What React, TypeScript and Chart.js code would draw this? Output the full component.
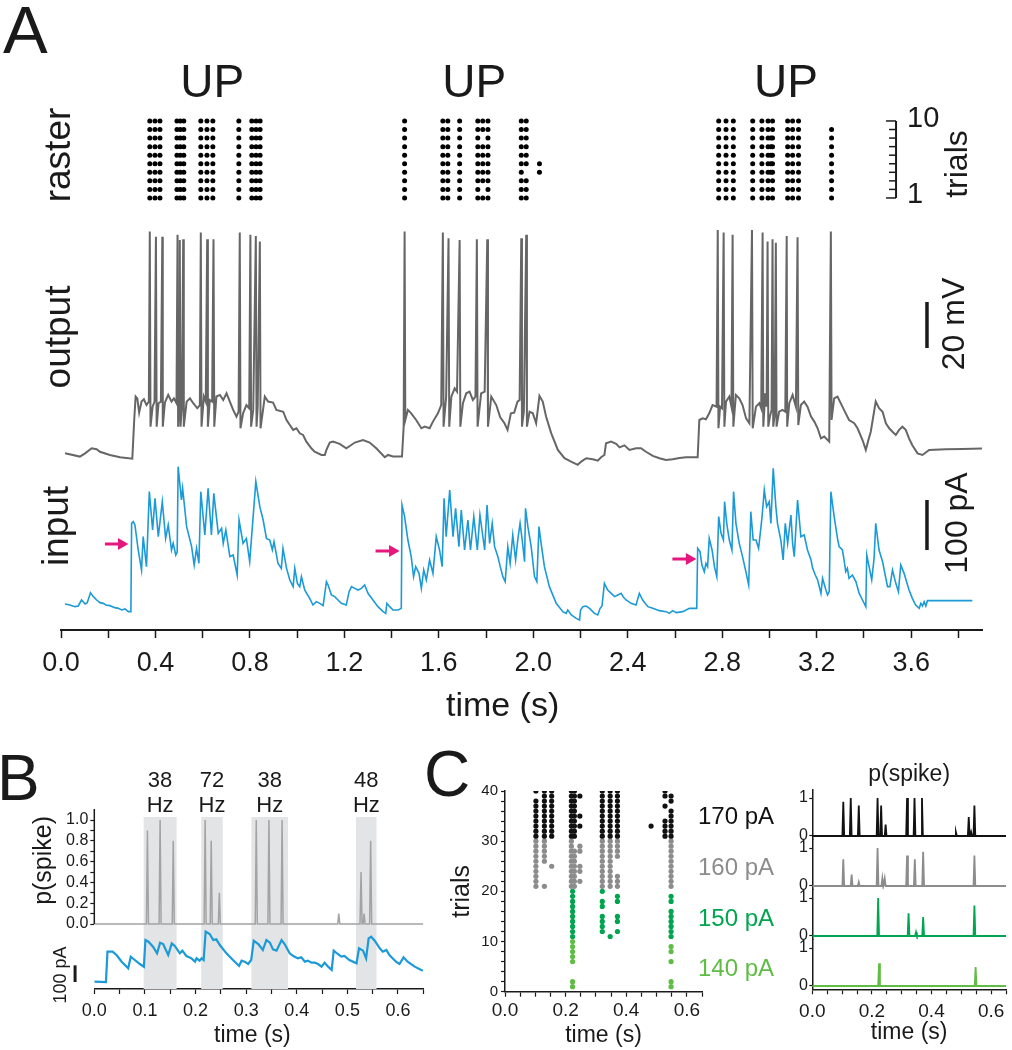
import React, { useEffect, useRef } from 'react';
import { Chart, registerables } from 'chart.js';

Chart.register(...registerables);

const FONT = '"Liberation Sans", Arial, Helvetica, sans-serif';
const INK = '#1a1a1a';
Chart.defaults.font.family = FONT;
Chart.defaults.color = INK;

// ---------------- Panel A data ----------------
const aXTickLabels = ['0.0', '0.4', '0.8', '1.2', '1.6', '2.0', '2.4', '2.8', '3.2', '3.6'];
const upLabelTimes = [0.64, 1.75, 3.07];
const T10 = [1, 2, 3, 4, 5, 6, 7, 8, 9, 10];
const rasterTimes = [
  0.376, 0.398, 0.419, 0.491, 0.505, 0.52, 0.592, 0.618, 0.643, 0.753, 0.808, 0.826, 0.843,
  1.455, 1.617, 1.638, 1.688, 1.765, 1.786, 1.808, 1.949, 1.97, 2.026,
  2.785, 2.816, 2.847, 2.929, 2.968, 2.994, 3.006, 3.013, 3.077, 3.098, 3.123, 3.263,
];
const rasterTrials: number[][] = [
  T10, T10, T10, T10, T10, T10, T10, T10, T10, T10, T10, T10, T10,
  T10, T10, T10, T10, T10, [1, 3, 4, 5, 6, 7, 9, 10], T10, T10, [1, 2, 3, 5, 6, 7, 8, 9, 10], [4, 5],
  T10, T10, T10, T10, T10, T10, [4, 5, 6, 7, 8], T10, T10, T10, T10, [1, 2, 3, 4, 5, 6, 7, 8, 9],
];
// output membrane potential (s, mV)
const outputTrace: [number, number][] = [
  [0.017, -69.3], [0.08, -70.7], [0.102, -69.3], [0.13, -67.1], [0.151, -67.5], [0.165, -68.6], [0.207, -70.0], [0.25, -71.0], [0.302, -71.6],
  [0.31, -54.8], [0.316, -44.6], [0.323, -45.4], [0.331, -51.6], [0.341, -46.8], [0.351, -45.8], [0.362, -48.3], [0.372, -46.8],
  [0.376, 27.1], [0.379, -57.7], [0.388, -49.0], [0.396, -46.8],
  [0.402, 24.9], [0.405, -57.7], [0.413, -47.5], [0.423, -46.8],
  [0.429, 24.9], [0.431, -57.7], [0.44, -47.2], [0.454, -43.9], [0.468, -46.8], [0.478, -45.4], [0.489, -47.5],
  [0.4935, 25.7], [0.496, -57.7], [0.501, -46.8], [0.503, 23.5], [0.506, -57.7], [0.512, -49.0], [0.5175, 23.8], [0.52, -57.7],
  [0.532, -46.8], [0.546, -45.4], [0.56, -47.5], [0.577, -49.7], [0.588, -48.3],
  [0.592, 26.7], [0.595, -57.7], [0.605, -44.6], [0.613, -46.8],
  [0.619, 23.8], [0.622, -57.7], [0.63, -46.1], [0.64, -46.8],
  [0.6458, 23.8], [0.649, -57.7], [0.658, -44.6], [0.673, -43.9], [0.687, -46.1], [0.701, -43.2], [0.715, -46.8], [0.729, -50.4], [0.743, -53.3], [0.752, -51.2],
  [0.757, 26.7], [0.76, -58.4], [0.771, -51.9], [0.785, -48.3], [0.797, -49.7],
  [0.802, 25.7], [0.805, -57.7], [0.814, -50.4],
  [0.825, 25.2], [0.828, -57.7], [0.833, -49.0],
  [0.842, 22.8], [0.845, -58.4], [0.863, -44.6], [0.877, -46.8], [0.898, -47.2], [0.912, -50.4], [0.941, -51.2], [0.955, -54.8], [0.969, -57.0],
  [0.983, -59.1], [0.997, -58.4], [1.011, -60.6], [1.025, -61.3], [1.039, -64.2], [1.06, -67.1], [1.074, -68.6], [1.103, -70.0], [1.117, -70.0],
  [1.124, -67.8], [1.138, -64.6], [1.152, -64.2], [1.18, -65.2], [1.208, -67.1], [1.223, -66.1], [1.244, -64.6], [1.279, -63.5], [1.307, -64.6],
  [1.335, -67.1], [1.371, -71.0], [1.385, -70.0], [1.406, -70.7], [1.444, -70.7],
  [1.451, -57.7], [1.455, 27.1], [1.458, -54.8], [1.469, -50.4], [1.483, -51.9], [1.504, -54.8], [1.526, -58.4], [1.54, -57.7], [1.561, -58.4],
  [1.575, -55.5], [1.596, -51.9], [1.61, -48.3],
  [1.617, 26.7], [1.62, -57.7], [1.631, -44.6],
  [1.641, 24.2], [1.644, -57.7], [1.653, -44.6], [1.667, -41.0], [1.677, -42.5],
  [1.688, 23.5], [1.691, -57.7], [1.702, -47.5], [1.716, -43.2], [1.73, -42.5], [1.744, -46.1], [1.755, -44.6],
  [1.761, 23.8], [1.764, -57.7], [1.779, -43.2], [1.794, -42.5],
  [1.805, 23.8], [1.808, -57.7], [1.822, -44.6], [1.843, -48.3], [1.86, -53.6], [1.878, -56.2], [1.891, -59.1], [1.905, -51.9], [1.919, -51.6],
  [1.933, -46.8], [1.942, -46.1],
  [1.949, 24.2], [1.952, -57.7], [1.96, -51.2],
  [1.97, 25.7], [1.973, -57.7], [1.984, -51.2], [1.998, -51.9], [2.012, -56.2], [2.026, -44.3], [2.04, -46.8], [2.054, -53.3], [2.076, -60.6],
  [2.104, -67.8], [2.132, -71.4], [2.16, -72.9], [2.188, -74.3], [2.203, -72.9], [2.224, -71.4], [2.252, -71.9], [2.273, -72.5], [2.287, -71.0],
  [2.301, -70.0], [2.308, -64.9], [2.329, -64.2], [2.351, -65.2], [2.365, -66.7], [2.386, -65.8], [2.407, -67.8], [2.435, -67.1], [2.456, -67.1],
  [2.477, -68.6], [2.506, -70.4], [2.534, -71.4], [2.562, -72.2], [2.59, -71.9], [2.619, -71.3], [2.647, -71.0], [2.696, -71.0],
  [2.703, -54.8], [2.717, -54.1], [2.731, -54.5], [2.745, -51.9], [2.759, -48.3], [2.776, -49.0],
  [2.781, 27.8], [2.784, -58.4], [2.791, -49.0], [2.799, -49.7],
  [2.806, 26.7], [2.809, -57.7], [2.816, -46.8], [2.83, -44.6], [2.839, -49.0],
  [2.844, 25.7], [2.847, -57.7], [2.858, -43.9], [2.872, -45.4], [2.886, -48.3], [2.901, -54.1], [2.915, -56.2],
  [2.926, 27.8], [2.929, -58.4], [2.943, -49.0], [2.957, -47.5], [2.965, -49.7],
  [2.971, 26.7], [2.974, -57.7], [2.982, -43.2], [2.988, -49.0],
  [2.992, 22.8], [2.995, -57.7], [3.002, -53.3], [3.009, -50.4],
  [3.013, 23.8], [3.016, -57.7], [3.022, -52.6],
  [3.027, 22.3], [3.03, -57.7], [3.041, -51.2], [3.055, -50.4], [3.067, -51.2],
  [3.073, 25.2], [3.075, -57.7], [3.084, -47.5], [3.098, -43.9], [3.112, -49.0],
  [3.119, 24.6], [3.122, -57.0], [3.133, -48.3], [3.147, -46.8], [3.161, -49.0], [3.176, -53.3], [3.19, -55.5], [3.204, -58.4], [3.218, -62.8],
  [3.232, -62.0], [3.253, -64.2],
  [3.26, 27.1], [3.263, -54.8], [3.274, -45.4], [3.288, -44.6], [3.309, -49.0], [3.323, -51.9], [3.337, -54.8], [3.359, -56.2], [3.373, -58.4],
  [3.394, -63.5], [3.408, -67.8], [3.419, -63.5], [3.429, -59.9], [3.45, -46.8], [3.464, -49.7], [3.479, -51.2], [3.493, -56.2], [3.507, -58.4],
  [3.521, -59.9], [3.535, -61.3], [3.549, -59.1], [3.563, -57.7], [3.577, -59.1], [3.591, -62.8], [3.605, -65.8], [3.627, -69.3], [3.648, -70.0],
  [3.676, -67.8], [3.747, -67.5], [3.817, -67.4], [3.91, -67.2],
];
// input current (s, pA)
const inputTrace: [number, number][] = [
  [0.017, 6], [0.038, 4], [0.059, 0.7], [0.073, 2], [0.087, 14], [0.102, 6], [0.111, 8.7], [0.125, 28.7], [0.137, 20.7], [0.151, 14], [0.165, 8.7],
  [0.179, 7.3], [0.19, 4], [0.207, 2.7], [0.228, -1.3], [0.243, -2.7], [0.257, -6], [0.271, -4], [0.285, -9.3], [0.296, -9.3],
  [0.299, 167.3], [0.306, 170.7], [0.313, 164], [0.327, 114], [0.341, 74], [0.348, 140.7], [0.362, 80.7], [0.374, 230.7], [0.388, 154],
  [0.398, 217.3], [0.412, 140.7], [0.429, 210.7], [0.443, 137.3], [0.454, 164], [0.468, 114], [0.475, 127.3], [0.486, 104], [0.492, 110],
  [0.496, 280.7], [0.51, 214], [0.515, 237.3], [0.532, 160.7], [0.553, 120.7], [0.564, 84], [0.574, 117.3], [0.584, 87.3], [0.592, 230.7],
  [0.609, 144], [0.623, 237.3], [0.637, 144], [0.647, 227.3], [0.666, 147.3], [0.68, 157.3], [0.687, 127.3], [0.698, 154], [0.715, 100.7],
  [0.729, 104], [0.746, 64], [0.754, 174], [0.771, 127.3], [0.785, 137.3], [0.799, 90.7], [0.825, 250.7], [0.842, 200.7], [0.856, 174],
  [0.87, 137.3], [0.884, 134], [0.895, 114], [0.902, 130.7], [0.919, 87.3], [0.933, 77.3], [0.94, 117.3], [0.955, 77.3], [0.969, 54],
  [0.983, 40.7], [0.99, 77.3], [1.001, 47.3], [1.011, 40.7], [1.018, 60.7], [1.032, 34], [1.053, 17.3], [1.067, 4], [1.081, 10.7], [1.096, 7.3],
  [1.11, 2.7], [1.124, 50.7], [1.131, 44], [1.145, 24], [1.159, 20.7], [1.173, 14], [1.187, 7.3], [1.208, 4], [1.22, 30.7], [1.23, 40.7],
  [1.244, 37.3], [1.258, 34], [1.272, 37.3], [1.286, 44], [1.3, 27.3], [1.321, 14], [1.342, 0.7], [1.364, -9.3], [1.375, -12.7], [1.38, 7.3],
  [1.392, 0.7], [1.406, -6], [1.427, -6], [1.441, -2.7],
  [1.444, 204], [1.455, 180.7], [1.469, 134], [1.483, 100.7], [1.493, 60.7], [1.502, 80.7], [1.516, 67.3], [1.526, 37.3], [1.536, 74],
  [1.547, 54], [1.561, 94], [1.575, 67.3], [1.589, 140.7], [1.603, 114], [1.614, 80.7], [1.622, 217.3], [1.631, 140.7], [1.646, 234],
  [1.66, 140.7], [1.671, 197.3], [1.685, 120.7], [1.695, 194], [1.709, 114], [1.723, 174], [1.734, 114], [1.748, 180.7], [1.763, 114],
  [1.774, 184], [1.794, 114], [1.804, 204], [1.815, 127.3], [1.826, 167.3], [1.836, 120.7], [1.85, 100.7], [1.86, 80.7], [1.871, 60.7],
  [1.881, 50.7], [1.892, 120.7], [1.902, 87.3], [1.913, 144], [1.925, 94], [1.934, 134], [1.944, 167.3], [1.953, 134], [1.963, 90.7],
  [1.967, 197.3], [1.977, 160.7], [1.991, 120.7], [2.005, 60.7], [2.015, 50.7], [2.024, 160.7], [2.033, 127.3], [2.047, 80.7], [2.068, 40.7],
  [2.097, 7.3], [2.125, -9.3], [2.139, -12.7], [2.146, -6], [2.161, -16], [2.182, -22.7], [2.196, -26], [2.2, -6], [2.21, 0.7], [2.224, 2],
  [2.238, -2.7], [2.259, -12.7], [2.273, -16], [2.283, -2.7], [2.291, 2], [2.301, 47.3], [2.315, 34], [2.33, 27.3], [2.344, 20.7], [2.358, 24],
  [2.372, 27.3], [2.382, 19.3], [2.393, 14], [2.414, 7.3], [2.435, 4], [2.449, 27.3], [2.463, 14], [2.485, 0.7], [2.506, -2.7], [2.534, -7.3],
  [2.562, -9.3], [2.576, -12.7], [2.59, -7.3], [2.605, -11.3], [2.633, -9.3], [2.661, -2.7], [2.692, -2.7],
  [2.696, 117.3], [2.706, 110.7], [2.714, 84], [2.724, 70.7], [2.731, 87.3], [2.738, 80.7], [2.745, 137.3], [2.757, 114], [2.767, 80.7],
  [2.777, 60.7], [2.785, 180.7], [2.795, 147.3], [2.805, 134], [2.81, 210.7], [2.819, 167.3], [2.83, 134], [2.841, 114], [2.848, 230.7],
  [2.858, 167.3], [2.872, 127.3], [2.886, 100.7], [2.9, 70.7], [2.912, 44], [2.921, 190.7], [2.931, 134], [2.943, 134], [2.954, 117.3],
  [2.968, 177.3], [2.978, 234], [2.988, 200.7], [2.999, 210.7], [3.006, 167.3], [3.016, 277.3], [3.027, 200.7], [3.034, 167.3], [3.048, 134],
  [3.058, 94], [3.067, 167.3], [3.077, 127.3], [3.091, 184], [3.098, 127.3], [3.105, 100.7], [3.119, 214], [3.133, 140.7], [3.147, 144],
  [3.161, 114], [3.176, 94], [3.183, 77.3], [3.194, 64], [3.204, 54], [3.218, 27.3], [3.225, 57.3], [3.239, 34], [3.246, 24], [3.253, 30.7],
  [3.26, 230.7], [3.274, 180.7], [3.288, 137.3], [3.295, 120.7], [3.309, 114], [3.316, 94], [3.323, 70.7], [3.33, 77.3], [3.337, 57.3],
  [3.351, 64], [3.366, 50.7], [3.38, 27.3], [3.394, 14], [3.408, 0.7], [3.412, 104], [3.422, 80.7], [3.433, 54], [3.443, 97.3], [3.45, 167.3],
  [3.464, 114], [3.479, 90.7], [3.49, 64], [3.5, 40.7], [3.51, 40.7], [3.521, 74], [3.535, 47.3], [3.546, 30.7], [3.556, 84], [3.57, 67.3],
  [3.591, 34], [3.605, 17.3], [3.619, 4], [3.634, -2.7], [3.641, 7.3], [3.648, 2], [3.655, 10.7], [3.662, 2], [3.669, 12.7], [3.747, 12.7],
  [3.859, 12.7],
];
const arrowTail = [0.186, 1.332, 2.589];
const arrowHead = [0.256, 1.404, 2.661];
const arrowLevel = [126, 112, 96];
const barTrialsX = 3.536;
const barTrials = [1, 10];
const barMvX = 3.667;
const barMv = [-23.5, -3.5];
const barPaX = 3.667;
const barPa = [114, 214];

// ---------------- Panel B data ----------------
const bXTickLabels = ['0.0', '0.1', '0.2', '0.3', '0.4', '0.5', '0.6'];
const bYTickLabels = ['0.0', '0.2', '0.4', '0.6', '0.8', '1.0'];
const bPeakTimes = [0.105, 0.13, 0.156, 0.219, 0.231, 0.247, 0.32, 0.345, 0.371, 0.483, 0.527, 0.533, 0.546];
const bPeakP = [0.9, 1.0, 0.8, 1.0, 0.8, 0.3, 1.0, 1.0, 1.0, 0.1, 0.5, 0.1, 0.8];
const bShadeStart = [0.097, 0.211, 0.31, 0.517];
const bShadeEnd = [0.163, 0.254, 0.383, 0.558];
const bFreqLabels = ['38', '72', '38', '48'];
const bTrace: [number, number][] = [
  [0.0, 2], [0.023, 0], [0.026, 182], [0.036, 182], [0.044, 162], [0.054, 122], [0.067, 82], [0.072, 152], [0.08, 132], [0.09, 108], [0.098, 92],
  [0.101, 252], [0.107, 242], [0.116, 212], [0.124, 172], [0.13, 236], [0.136, 228], [0.146, 162], [0.153, 232], [0.159, 216], [0.169, 172],
  [0.174, 188], [0.182, 156], [0.192, 142], [0.199, 122], [0.202, 142], [0.208, 128], [0.212, 142], [0.216, 132], [0.22, 302], [0.228, 288],
  [0.235, 252], [0.241, 256], [0.248, 222], [0.261, 172], [0.274, 132], [0.286, 96], [0.291, 128], [0.297, 122], [0.304, 108], [0.31, 132],
  [0.315, 248], [0.324, 228], [0.333, 192], [0.34, 252], [0.347, 236], [0.353, 196], [0.36, 188], [0.37, 252], [0.376, 228], [0.386, 172],
  [0.393, 156], [0.402, 142], [0.409, 148], [0.416, 122], [0.422, 128], [0.429, 116], [0.436, 116], [0.442, 108], [0.449, 92], [0.455, 116],
  [0.462, 92], [0.469, 72], [0.473, 188], [0.481, 168], [0.488, 152], [0.494, 156], [0.504, 132], [0.518, 112], [0.523, 202], [0.531, 188],
  [0.537, 142], [0.542, 262], [0.547, 272], [0.554, 248], [0.564, 202], [0.57, 182], [0.577, 192], [0.583, 162], [0.596, 122], [0.603, 108],
  [0.611, 148], [0.619, 122], [0.633, 92], [0.649, 68],
];
const bBarX = -0.038;
const bBar = [0, 100];

// ---------------- Panel C data ----------------
const cXTickLabels = ['0.0', '0.2', '0.4', '0.6'];
const cYTickLabels = ['0', '10', '20', '30', '40'];
const cLevels = ['170 pA', '160 pA', '150 pA', '140 pA'];
const cColors = ['#111111', '#8c8c8c', '#00a54f', '#5fbd45'];
const cLabelTrial = [34.8, 24.5, 14.4, 4.4];
const span = (a: number, b: number) => { const r: number[] = []; for (let k = a; k <= b; k++) r.push(k); return r; };
const c170Cols = [0.102, 0.13, 0.154, 0.219, 0.229, 0.247, 0.321, 0.347, 0.371, 0.482, 0.528, 0.548];
const c170Trials = [
  [31, 32, 33, 34, 35, 36, 37, 38, 40], span(31, 40), span(31, 40), span(31, 40), span(31, 40), [33, 35, 39],
  span(31, 40), span(31, 40), span(31, 40), [33], [31, 32, 33, 34, 37, 39, 40], [31, 32, 33, 34, 35, 36, 38, 39],
];
const c160Cols = [0.102, 0.13, 0.154, 0.219, 0.229, 0.247, 0.321, 0.347, 0.371, 0.548];
const c160Trials = [
  span(21, 30), [21, 26, 27, 28, 29, 30], [25], span(21, 30), span(21, 28), [22, 24, 25, 28, 29],
  span(21, 30), span(21, 30), [21, 22, 23, 27, 28, 29, 30], span(21, 30),
];
const c150Cols = [0.223, 0.321, 0.347, 0.371, 0.548];
const c150Trials = [span(11, 20), [12, 13, 14, 15, 17, 18, 20], [11], [12, 14, 15, 18, 19], [11, 12, 13, 14, 15, 16, 18, 19]];
const c140Cols = [0.223, 0.548];
const c140Trials = [[1, 2, 6, 7, 8, 9, 10], [1, 2, 6, 8, 9]];

const c170Peaks = [0.104, 0.129, 0.156, 0.219, 0.231, 0.246, 0.318, 0.343, 0.368, 0.482, 0.525, 0.533, 0.544];
const c170P = [0.9, 1.0, 0.8, 1.0, 0.8, 0.3, 1.0, 1.0, 1.0, 0.1, 0.5, 0.1, 0.8];
const c160Peaks = [0.104, 0.132, 0.156, 0.219, 0.235, 0.243, 0.318, 0.344, 0.372, 0.544];
const c160P = [0.7, 0.3, 0.1, 1.0, 0.2, 0.2, 0.8, 0.7, 0.9, 0.8];
const c150Peaks = [0.221, 0.323, 0.348, 0.372, 0.544];
const c150P = [1.0, 0.6, 0.1, 0.5, 0.8];
const c140Peaks = [0.224, 0.548];
const c140P = [0.6, 0.5];

// ---------------- helpers ----------------
const pts = (arr: [number, number][]) => arr.map(([x, y]) => ({ x, y }));
function peakSeries(times: number[], heights: number[], half: number, xmax: number) {
  const out: { x: number; y: number }[] = [{ x: 0, y: 0 }];
  times.forEach((t, i) => {
    out.push({ x: t - half, y: 0 }, { x: t, y: heights[i] }, { x: t + half, y: 0 });
  });
  out.push({ x: xmax, y: 0 });
  return out;
}
function columnPoints(cols: number[], trials: number[][]) {
  return cols.flatMap((t, i) => trials[i].map((k) => ({ x: t, y: k })));
}
function txt(ctx: any, s: string, x: number, y: number, size: number, align = 'center', baseline = 'alphabetic', color = INK) {
  ctx.save();
  ctx.font = `${size}px ${FONT}`;
  ctx.fillStyle = color;
  ctx.textAlign = align;
  ctx.textBaseline = baseline;
  ctx.fillText(s, x, y);
  ctx.restore();
}
function vtxt(ctx: any, s: string, x: number, y: number, size: number, color = INK) {
  ctx.save();
  ctx.translate(x, y);
  ctx.rotate(-Math.PI / 2);
  ctx.font = `${size}px ${FONT}`;
  ctx.fillStyle = color;
  ctx.textAlign = 'center';
  ctx.textBaseline = 'middle';
  ctx.fillText(s, 0, 0);
  ctx.restore();
}
const baseOpts = {
  animation: false,
  responsive: false,
  maintainAspectRatio: false,
  events: [],
};
const noPlugins = { legend: { display: false }, tooltip: { enabled: false }, title: { display: false } };

// ---------------- chart builders ----------------
function buildA(canvas: HTMLCanvasElement) {
  const rasterPoints = columnPoints(rasterTimes, rasterTrials);
  const PINK = '#e5177e';
  const arrows = arrowTail.map((t, i) => ({
    data: [{ x: t, y: arrowLevel[i] }, { x: arrowHead[i], y: arrowLevel[i] }],
    yAxisID: 'yI', borderColor: PINK, borderWidth: 3, pointRadius: [0, 7], pointStyle: 'triangle',
    pointRotation: 90, pointBackgroundColor: PINK, pointBorderColor: PINK, pointBorderWidth: 0,
  }));
  const textA = {
    id: 'textA',
    afterDraw(chart: any) {
      const { ctx, scales } = chart;
      const x = scales.x;
      const yR = scales.yR;
      txt(ctx, 'A', 3, 53, 67, 'left');
      upLabelTimes.forEach((t) => txt(ctx, 'UP', x.getPixelForValue(t), 97, 46));
      vtxt(ctx, 'raster', 60, 155, 37);
      vtxt(ctx, 'output', 60, 337, 37);
      vtxt(ctx, 'input', 58, 526, 37);
      const bx = x.getPixelForValue(barTrialsX);
      ctx.save();
      ctx.strokeStyle = INK;
      ctx.lineWidth = 1.5;
      for (let k = barTrials[0]; k <= barTrials[1]; k++) {
        const yy = yR.getPixelForValue(k);
        const len = k === barTrials[0] || k === barTrials[1] ? 10 : 7;
        ctx.beginPath();
        ctx.moveTo(bx - len, yy);
        ctx.lineTo(bx, yy);
        ctx.stroke();
      }
      ctx.restore();
      txt(ctx, String(barTrials[1]), bx + 11, yR.getPixelForValue(barTrials[1]) - 2, 29, 'left', 'middle');
      txt(ctx, String(barTrials[0]), bx + 11, yR.getPixelForValue(barTrials[0]) - 3, 29, 'left', 'middle');
      vtxt(ctx, 'trials', 958, 164, 32);
      vtxt(ctx, '20 mV', 955, 324, 32);
      vtxt(ctx, '100 pA', 958, 523, 32);
    },
  };
  return new Chart(canvas, {
    type: 'line',
    data: {
      datasets: [
        { label: 'raster', data: rasterPoints, yAxisID: 'yR', showLine: false, pointRadius: 2.5, pointBackgroundColor: '#000', pointBorderWidth: 0 },
        { label: 'output', data: pts(outputTrace), yAxisID: 'yO', borderColor: '#666666', borderWidth: 2, pointRadius: 0, tension: 0 },
        { label: 'input', data: pts(inputTrace), yAxisID: 'yI', borderColor: '#1b9ad7', borderWidth: 1.6, pointRadius: 0, tension: 0 },
        { label: 'trials bar', data: [{ x: barTrialsX, y: barTrials[0] }, { x: barTrialsX, y: barTrials[1] }], yAxisID: 'yR', borderColor: INK, borderWidth: 2, pointRadius: 0 },
        { label: '20 mV', data: [{ x: barMvX, y: barMv[0] }, { x: barMvX, y: barMv[1] }], yAxisID: 'yO', borderColor: INK, borderWidth: 3.5, pointRadius: 0 },
        { label: '100 pA', data: [{ x: barPaX, y: barPa[0] }, { x: barPaX, y: barPa[1] }], yAxisID: 'yI', borderColor: INK, borderWidth: 3.5, pointRadius: 0 },
        ...arrows,
      ] as any,
    },
    options: {
      ...baseOpts,
      layout: { padding: { left: 61, right: 30, top: 0, bottom: 0 }, autoPadding: false },
      plugins: noPlugins,
      scales: {
        x: {
          type: 'linear', min: 0, max: 3.9, position: 'bottom',
          afterFit: (s: any) => { s.height = 100; },
          grid: { drawOnChartArea: false, drawTicks: true, tickLength: 8, tickColor: INK, tickWidth: 1.5 },
          border: { display: true, color: INK, width: 2 },
          ticks: {
            stepSize: 0.2, includeBounds: false, autoSkip: false, maxRotation: 0, padding: 9, color: INK, font: { size: 27 },
            callback: (v: any) => { const s = Number(v).toFixed(1); return aXTickLabels.includes(s) ? s : ''; },
          },
          title: { display: true, text: 'time (s)    ', color: INK, font: { size: 34 }, padding: { top: 0, bottom: 3 } },
        },
        y: { display: false },
        yR: { type: 'linear', display: false, min: -49.5, max: 24.14 },
        yO: { type: 'linear', display: false, min: -146.1, max: 127.8 },
        yI: { type: 'linear', display: false, min: -46, max: 1214 },
      },
    } as any,
    plugins: [textA],
  });
}

function buildB(canvas: HTMLCanvasElement) {
  const shades = bShadeStart.map((s, i) => ({
    data: [{ x: s, y: 1.03 }, { x: bShadeEnd[i], y: 1.03 }], yAxisID: 'yP', borderWidth: 0, pointRadius: 0,
    fill: 'start', backgroundColor: '#e3e4e6', order: 5,
  }));
  const textB = {
    id: 'textB',
    afterDraw(chart: any) {
      const { ctx, scales } = chart;
      txt(ctx, 'B', -3, 60, 64, 'left');
      bFreqLabels.forEach((f, i) => {
        const cx = scales.x.getPixelForValue((bShadeStart[i] + bShadeEnd[i]) / 2);
        txt(ctx, f, cx, 47, 22);
        txt(ctx, 'Hz', cx, 72, 22);
      });
      vtxt(ctx, '100 pA', 61, 235, 18);
    },
  };
  return new Chart(canvas, {
    type: 'line',
    data: {
      datasets: [
        ...shades,
        { label: 'p(spike)', data: peakSeries(bPeakTimes, bPeakP, 0.002, 0.65), yAxisID: 'yP', borderColor: '#a3a3a3', borderWidth: 1.5, pointRadius: 0, order: 1 },
        { label: 'p axis', data: [{ x: 0, y: 0 }, { x: 0, y: 1.106 }], yAxisID: 'yP', borderColor: INK, borderWidth: 1.5, pointRadius: 0, clip: false, order: 0 },
        { label: 'input', data: pts(bTrace), yAxisID: 'yA', borderColor: '#1b9ad7', borderWidth: 2.2, pointRadius: 0, order: 1 },
        { label: '100 pA', data: [{ x: bBarX, y: bBar[0] }, { x: bBarX, y: bBar[1] }], yAxisID: 'yA', borderColor: INK, borderWidth: 3, pointRadius: 0, clip: false, order: 0 },
      ] as any,
    },
    options: {
      ...baseOpts,
      layout: { padding: { left: 0, right: 16.7, top: 69, bottom: 0 }, autoPadding: false },
      plugins: noPlugins,
      scales: {
        x: {
          type: 'linear', min: 0, max: 0.65, position: 'bottom',
          afterFit: (s: any) => { s.height = 61; },
          grid: { drawOnChartArea: false, tickLength: 5, tickColor: INK, tickWidth: 1.2 },
          border: { display: true, color: INK, width: 1.5 },
          ticks: {
            stepSize: 0.05, includeBounds: false, autoSkip: false, maxRotation: 0, padding: 6, color: INK, font: { size: 18 },
            callback: (v: any) => { const s = Number(v).toFixed(1); return Math.abs(Number(v) - Number(s)) < 1e-6 && bXTickLabels.includes(s) ? s : ''; },
          },
          title: { display: true, text: 'time (s)  ', color: INK, font: { size: 23 }, padding: { top: 0, bottom: 1 } },
        },
        y: { display: false },
        yP: {
          type: 'linear', position: 'left', min: -0.625, max: 1.106,
          afterFit: (s: any) => { s.width = 94.3; },
          afterBuildTicks: (s: any) => { s.ticks = s.ticks.filter((t: any) => t.value > -1e-6 && t.value < 1.0001); },
          grid: { drawOnChartArea: false, tickLength: 4, tickColor: INK, tickWidth: 1.2 },
          border: { display: false },
          ticks: {
            stepSize: 0.1, includeBounds: false, autoSkip: false, padding: 2, color: INK, font: { size: 16 },
            callback: (v: any) => { const s = Number(v).toFixed(1); return bYTickLabels.includes(s) && Math.abs(Number(v) - Number(s)) < 1e-6 ? s : ''; },
          },
          title: { display: true, text: 'p(spike) ', align: 'end', color: INK, font: { size: 25 }, padding: { top: 29, bottom: 0 } },
        },
        yA: { type: 'linear', display: false, min: -42, max: 1038 },
      },
    } as any,
    plugins: [textB],
  });
}

function buildC(canvas: HTMLCanvasElement) {
  const groups = [
    columnPoints(c170Cols, c170Trials),
    columnPoints(c160Cols, c160Trials),
    columnPoints(c150Cols, c150Trials),
    columnPoints(c140Cols, c140Trials),
  ];
  const textC = {
    id: 'textC',
    afterDraw(chart: any) {
      const { ctx, scales } = chart;
      txt(ctx, 'C', 4, 56, 64, 'left');
      cLevels.forEach((l, i) => txt(ctx, l, 278, scales.y.getPixelForValue(cLabelTrial[i]), 24, 'left', 'middle', cColors[i]));
    },
  };
  return new Chart(canvas, {
    type: 'line',
    data: {
      datasets: groups.map((g, i) => ({
        label: cLevels[i], data: g, showLine: false, pointRadius: 2.6, pointBackgroundColor: cColors[i], pointBorderWidth: 0,
      })) as any,
    },
    options: {
      ...baseOpts,
      layout: { padding: { left: 0, right: 98, top: 51, bottom: 0 }, autoPadding: false },
      plugins: noPlugins,
      scales: {
        x: {
          type: 'linear', min: 0, max: 0.65, position: 'bottom',
          afterFit: (s: any) => { s.height = 58.3; },
          grid: { drawOnChartArea: false, tickLength: 5, tickColor: INK, tickWidth: 1.2 },
          border: { display: true, color: INK, width: 1.5 },
          ticks: {
            stepSize: 0.05, includeBounds: false, autoSkip: false, maxRotation: 0, padding: 3, color: INK, font: { size: 19 },
            callback: (v: any) => { const s = Number(v).toFixed(1); return Math.abs(Number(v) - Number(s)) < 1e-6 && cXTickLabels.includes(s) ? s : ''; },
          },
          title: { display: true, text: 'time (s)', color: INK, font: { size: 23 }, padding: { top: 0, bottom: 1 } },
        },
        y: {
          type: 'linear', position: 'left', min: 0, max: 40,
          afterFit: (s: any) => { s.width = 85; },
          grid: { drawOnChartArea: false, tickLength: 4, tickColor: INK, tickWidth: 1.2 },
          border: { display: true, color: INK, width: 1.5 },
          ticks: {
            stepSize: 2, autoSkip: false, padding: 3, color: INK, font: { size: 15 },
            callback: (v: any) => { const s = String(Math.round(Number(v))); return cYTickLabels.includes(s) ? s : ''; },
          },
          title: { display: true, text: 'trials', color: INK, font: { size: 25 }, padding: { top: 27, bottom: 0 } },
        },
      },
    } as any,
    plugins: [textC],
  });
}

function buildD(canvas: HTMLCanvasElement) {
  const series = [
    peakSeries(c170Peaks, c170P, 0.003, 0.65),
    peakSeries(c160Peaks, c160P, 0.003, 0.65),
    peakSeries(c150Peaks, c150P, 0.003, 0.65),
    peakSeries(c140Peaks, c140P, 0.003, 0.65),
  ];
  const ids = ['y170', 'y160', 'y150', 'y140'];
  const yAxis = (w: number) => ({
    type: 'linear', position: 'left', stack: 'p', stackWeight: 1, weight: w, min: -0.087, max: 1.229,
    afterFit: (s: any) => { s.width = 82.3; },
    afterBuildTicks: (s: any) => { s.ticks = [{ value: 0 }, { value: 1 }]; },
    grid: { drawOnChartArea: false, tickLength: 3, tickColor: INK, tickWidth: 1.2 },
    border: { display: true, color: INK, width: 1.5 },
    ticks: { autoSkip: false, padding: 1.3, color: INK, font: { size: 16 }, callback: (v: any) => String(Math.round(Number(v))) },
  });
  const textD = {
    id: 'textD',
    afterDraw(chart: any) {
      const { ctx, chartArea } = chart;
      txt(ctx, 'p(spike)', (chartArea.left + chartArea.right) / 2, 35, 23, 'center', 'middle');
    },
  };
  return new Chart(canvas, {
    type: 'line',
    data: {
      datasets: series.map((s, i) => ({
        label: cLevels[i], data: s, yAxisID: ids[i], borderColor: cColors[i], borderWidth: 1.8, pointRadius: 0, tension: 0,
        fill: 'origin', backgroundColor: cColors[i],
      })) as any,
    },
    options: {
      ...baseOpts,
      layout: { padding: { left: 0, right: 2, top: 49.3, bottom: 0 }, autoPadding: false },
      plugins: noPlugins,
      scales: {
        x: {
          type: 'linear', min: 0, max: 0.65, position: 'bottom',
          afterFit: (s: any) => { s.height = 60.7; },
          grid: { drawOnChartArea: false, tickLength: 5, tickColor: INK, tickWidth: 1.2 },
          border: { display: true, color: INK, width: 1.5 },
          ticks: {
            stepSize: 0.05, includeBounds: false, autoSkip: false, maxRotation: 0, padding: 6, color: INK, font: { size: 19 },
            callback: (v: any) => { const s = Number(v).toFixed(1); return Math.abs(Number(v) - Number(s)) < 1e-6 && cXTickLabels.includes(s) ? s : ''; },
          },
          title: { display: true, text: 'time (s)', color: INK, font: { size: 23 }, padding: { top: 0, bottom: 4 } },
        },
        y170: yAxis(4),
        y160: yAxis(3),
        y150: yAxis(2),
        y140: yAxis(1),
      },
    } as any,
    plugins: [textD],
  });
}

export default function App() {
  const refA = useRef<HTMLCanvasElement>(null);
  const refB = useRef<HTMLCanvasElement>(null);
  const refC = useRef<HTMLCanvasElement>(null);
  const refD = useRef<HTMLCanvasElement>(null);
  useEffect(() => {
    const charts: Chart[] = [];
    if (refA.current) charts.push(buildA(refA.current));
    if (refB.current) charts.push(buildB(refB.current));
    if (refC.current) charts.push(buildC(refC.current));
    if (refD.current) charts.push(buildD(refD.current));
    return () => charts.forEach((c) => c.destroy());
  }, []);
  const abs = (left: number, top: number) => ({ position: 'absolute' as const, left, top });
  return (
    <div style={{ position: 'absolute', left: 0, top: 0, width: 1012, height: 1050, background: '#ffffff' }}>
      <canvas ref={refA} width={1012} height={730} style={abs(0, 0)} />
      <canvas ref={refB} width={440} height={310} style={abs(0, 740)} />
      <canvas ref={refC} width={380} height={310} style={abs(420, 740)} />
      <canvas ref={refD} width={282} height={310} style={abs(730, 740)} />
    </div>
  );
}
